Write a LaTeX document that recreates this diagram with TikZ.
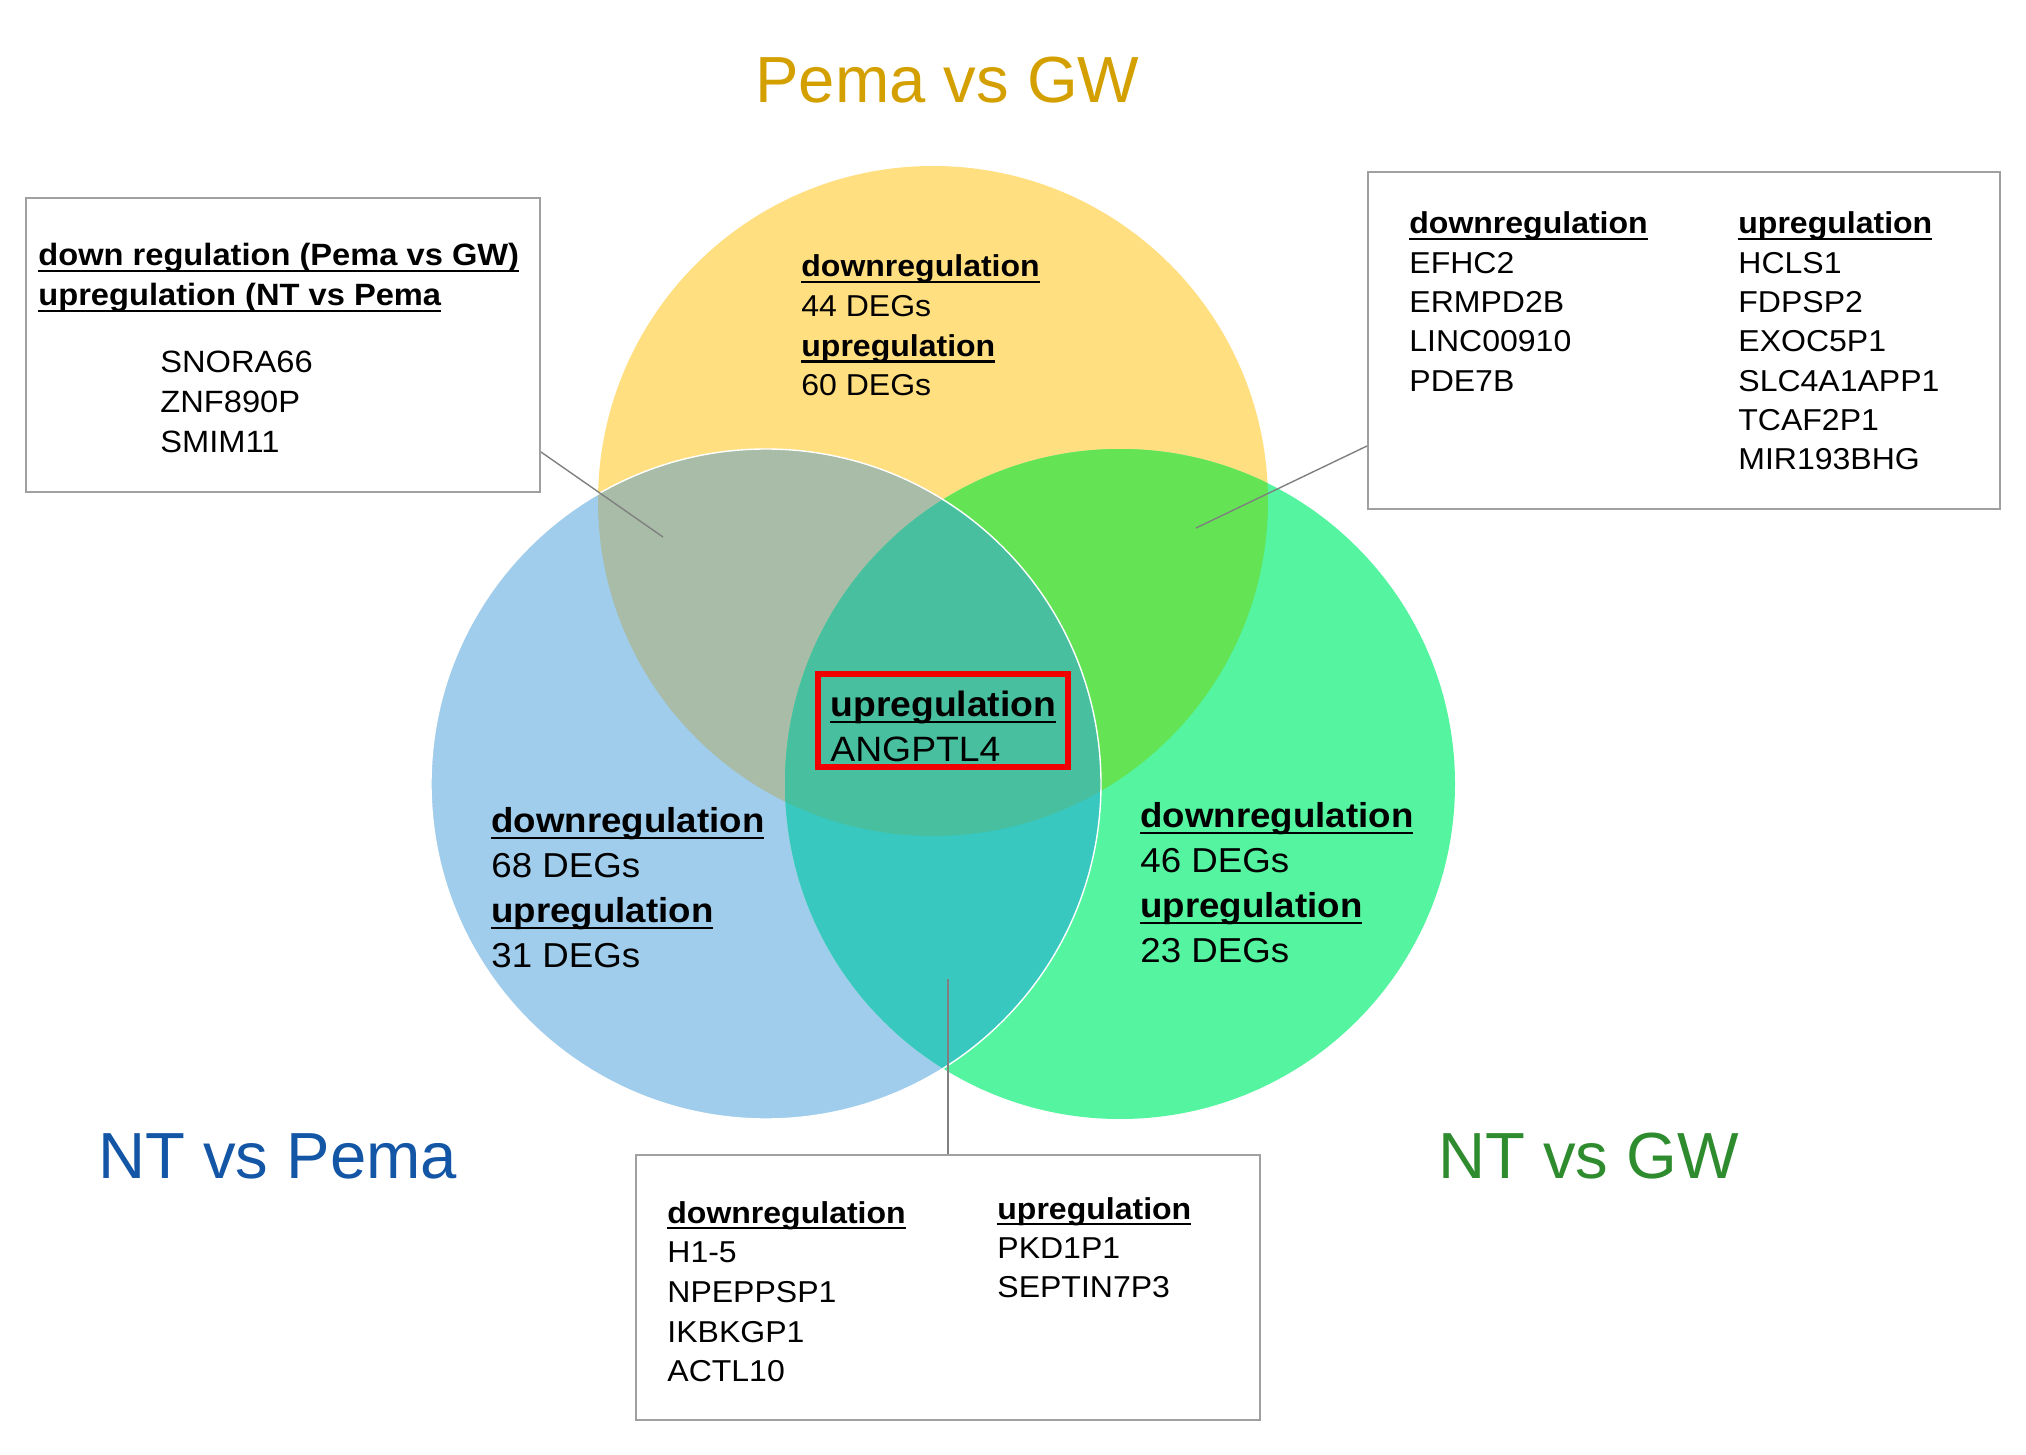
\documentclass[tikz,border=0pt]{standalone}
\usepackage{fontspec}
\setmainfont{Liberation Sans}
\newfontfamily\bodyf{Liberation Sans}[FakeStretch=1.06]
\newcommand\ulx[1]{\setbox0=\hbox{#1}\rlap{\rule[-0.21em]{\wd0}{0.075em}}\box0}
\definecolor{cyel}{RGB}{255,223,128}
\definecolor{cblu}{RGB}{160,205,236}
\definecolor{cgrn}{RGB}{84,244,160}
\definecolor{cyb}{RGB}{168,188,168}
\definecolor{cyg}{RGB}{100,228,84}
\definecolor{cbg}{RGB}{56,200,192}
\definecolor{cmid}{RGB}{72,192,160}
\definecolor{tpema}{RGB}{212,160,0}
\definecolor{tntp}{RGB}{20,86,166}
\definecolor{tntg}{RGB}{46,140,46}
\definecolor{boxgray}{RGB}{160,160,160}
\definecolor{linegray}{RGB}{128,128,128}
\definecolor{redbox}{RGB}{240,0,0}
\begin{document}
\begin{tikzpicture}[x=0.5pt,y=-0.5pt,
  txt/.style={anchor=base west, inner sep=0pt},
  boxtxt/.style={txt, font=\bodyf\fontsize{15.1}{17}\selectfont},
  lboxtxt/.style={txt, font=\bodyf\fontsize{15.4}{17}\selectfont},
  ytxt/.style={txt, font=\bodyf\fontsize{15.1}{17}\selectfont},
  bigtxt/.style={txt, font=\bodyf\fontsize{17.3}{20}\selectfont},
  midtxt/.style={txt, font=\bodyf\fontsize{17.6}{20}\selectfont},
  title/.style={txt, font=\fontsize{32.6}{38}\selectfont},
  genebox/.style={draw=boxgray, line width=1pt, fill=white, inner sep=0pt},
  conn/.style={draw=linegray, line width=0.7pt}
]
\fill[white] (0,0) rectangle (2026,1455);
\useasboundingbox (0,0) rectangle (2026,1455);
\def\R{167.5pt}
\coordinate (cy) at (933,501);
\coordinate (cb) at (766,784);
\coordinate (cg) at (1120,784);
% circles
\fill[cyel] (cy) circle[radius=\R];
\fill[cblu] (cb) circle[radius=\R];
\fill[cgrn] (cg) circle[radius=\R];
\begin{scope}
  \clip (cy) circle[radius=\R];
  \fill[cyb] (cb) circle[radius=\R];
  \fill[cyg] (cg) circle[radius=\R];
\end{scope}
\begin{scope}
  \clip (cb) circle[radius=\R];
  \fill[cbg] (cg) circle[radius=\R];
  \begin{scope}
    \clip (cy) circle[radius=\R];
    \fill[cmid] (cg) circle[radius=\R];
  \end{scope}
\end{scope}
\draw[white, line width=0.7pt] (cb) circle[radius=\R];

% titles
\node[title, text=tpema] (tpg) at (755,103) {Pema vs GW};
\node[title, text=tntp] (tnp) at (98,1178) {NT vs Pema};
\node[title, text=tntg] (tng) at (1438,1178) {NT vs GW};

% circle texts
\foreach \t [count=\i] in {{\bfseries\ulx{downregulation}},{44 DEGs},{\bfseries\ulx{upregulation}},{60 DEGs}}
  \node[ytxt] (yt\i) at ({801},{277+39.6*(\i-1)}) {\t};
\foreach \t [count=\i] in {{\bfseries\ulx{downregulation}},{68 DEGs},{\bfseries\ulx{upregulation}},{31 DEGs}}
  \node[bigtxt] (bt\i) at ({491},{832+45*(\i-1)}) {\t};
\foreach \t [count=\i] in {{\bfseries\ulx{downregulation}},{46 DEGs},{\bfseries\ulx{upregulation}},{23 DEGs}}
  \node[bigtxt] (gt\i) at ({1140},{827+45*(\i-1)}) {\t};

% centre
\node[draw=redbox, line width=3pt, minimum width=125pt, minimum height=46.5pt, inner sep=0pt] (red) at (943,720.5) {};
\node[midtxt] (mt1) at (830,716) {\bfseries\ulx{upregulation}};
\node[midtxt] (mt2) at (830,761) {ANGPTL4};

% left box
\node[genebox, minimum width=257pt, minimum height=147pt] (lbox) at (283,345) {};
\node[lboxtxt] (lh1) at (38,266) {\bfseries\ulx{down regulation (Pema vs GW)}};
\node[lboxtxt] (lh2) at (38,306) {\bfseries\ulx{upregulation (NT vs Pema}};
\foreach \t [count=\i] in {SNORA66,ZNF890P,SMIM11}
  \node[lboxtxt] (lg\i) at ({160},{373+39.5*(\i-1)}) {\t};

% right box
\node[genebox, minimum width=316pt, minimum height=168.5pt] (rbox) at (1684,340.5) {};
\foreach \t [count=\i] in {{\bfseries\ulx{downregulation}},EFHC2,ERMPD2B,LINC00910,PDE7B}
  \node[boxtxt] (rl\i) at ({1409},{234+39.3*(\i-1)}) {\t};
\foreach \t [count=\i] in {{\bfseries\ulx{upregulation}},HCLS1,FDPSP2,EXOC5P1,SLC4A1APP1,TCAF2P1,MIR193BHG}
  \node[boxtxt] (rr\i) at ({1738},{234+39.3*(\i-1)}) {\t};

% bottom box
\node[genebox, minimum width=312pt, minimum height=132.5pt] (bbox) at (948,1287.5) {};
\foreach \t [count=\i] in {{\bfseries\ulx{downregulation}},H1-5,NPEPPSP1,IKBKGP1,ACTL10}
  \node[boxtxt] (bl\i) at ({667},{1223+39.7*(\i-1)}) {\t};
\foreach \t [count=\i] in {{\bfseries\ulx{upregulation}},PKD1P1,SEPTIN7P3}
  \node[boxtxt] (br\i) at ({997},{1219+39*(\i-1)}) {\t};

% connectors
\coordinate (lend) at (663,537);
\coordinate (lstart) at (540,452);
\draw[conn] (lbox.east |- lstart) -- (lend);
\coordinate (rend) at (1196,528);
\coordinate (rstart) at (1368,446);
\draw[conn] (rbox.west |- rstart) -- (rend);
\coordinate (bend) at (948,979);
\draw[conn] (bend) -- (bend |- bbox.north);
\end{tikzpicture}
\end{document}
